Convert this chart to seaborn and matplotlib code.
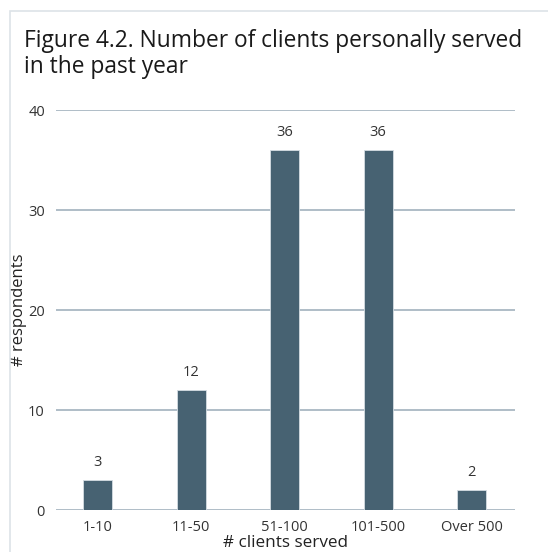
import pandas as pd
import seaborn as sns
import matplotlib.pyplot as plt
from matplotlib.patches import Rectangle

# Data
categories = ['1-10', '11-50', '51-100', '101-500', 'Over 500']
respondents = [3, 12, 36, 36, 2]
yticks = [0, 10, 20, 30, 40]

df = pd.DataFrame({'clients': categories, 'respondents': respondents})

sns.set_style('white')
plt.rcParams['font.family'] = ['Open Sans', 'DejaVu Sans']

fig = plt.figure(figsize=(5.48, 5.52), dpi=100)
ax = fig.add_axes([56 / 548, 1 - 510 / 552, 459 / 548, 400 / 552])

sns.barplot(data=df, x='clients', y='respondents', color='#476272',
            saturation=1, width=0.31, edgecolor='#d5dde3', linewidth=0.6, ax=ax)

ax.set_xlim(-0.444, 4.465)
ax.set_ylim(0, 40)
ax.set_yticks(yticks)
ax.yaxis.grid(True, color='#a9b8c3', linewidth=1.3)
ax.set_axisbelow(True)
for s in ax.spines.values():
    s.set_visible(False)
ax.tick_params(axis='both', length=0, labelsize=10.5, colors='#333333')
ax.tick_params(axis='y', pad=8)
ax.tick_params(axis='x', pad=7)

ax.set_xlabel('# clients served', fontsize=12.3, color='#222222', labelpad=0)
ax.set_ylabel('# respondents', fontsize=12, color='#222222', labelpad=1)

for i, v in enumerate(respondents):
    ax.annotate(str(v), (i, v), xytext=(0, 7), textcoords='offset points',
                ha='center', va='bottom', fontsize=10.5, color='#333333')

fig.text(24 / 548, 1 - 29 / 552, 'Figure 4.2. Number of clients personally served\nin the past year',
         fontsize=16.4, color='#1a1a1a', va='top', ha='left', linespacing=1.1)

# light frame around the chart
fig.patches.append(Rectangle((10 / 548, -0.05), 1.0, 1 - 11 / 552 + 0.05,
                             transform=fig.transFigure, fill=False,
                             edgecolor='#dde3e8', linewidth=1.2))

fig.savefig('out.png', dpi=100)
